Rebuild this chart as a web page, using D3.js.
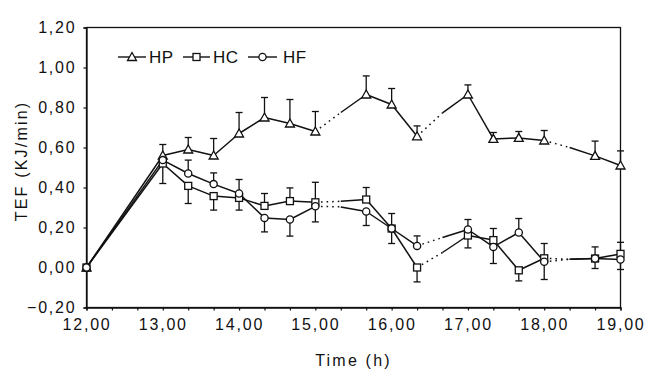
<!DOCTYPE html>
<html lang="en">
<head>
<meta charset="utf-8">
<script src="https://d3js.org/d3.v7.min.js"></script>
<style>
body { margin: 0; background: #fff; }
#chart { width: 648px; height: 370px; }
text { font-family: "Liberation Sans", Arial, sans-serif; fill: #111; }
</style>
</head>
<body>
<div id="chart"></div>
<script>
// measurement times (20 min steps, some slots have no measurement)
var times = ["12:00", "13:00", "13:20", "13:40", "14:00", "14:20", "14:40", "15:00", "15:20", "15:40",
             "16:00", "16:20", "16:40", "17:00", "17:20", "17:40", "18:00", "18:20", "18:40", "19:00"];
// false = no measurement at that slot, line drawn dotted into it
var measured = [true, true, true, true, true, true, true, true, false, true,
                true, true, false, true, true, true, true, false, true, true];

var hpValues = [0, 0.56, 0.59, 0.56, 0.67, 0.75, 0.72, 0.68, 0.775, 0.865,
                0.815, 0.656, 0.773, 0.865, 0.643, 0.648, 0.635, 0.60, 0.558, 0.51];
var hpErrUp = [0, 0.055, 0.06, 0.085, 0.105, 0.10, 0.12, 0.10, 0, 0.093,
               0.08, 0.052, 0, 0.048, 0.032, 0.032, 0.05, 0, 0.074, 0.073];
var hpErrDown = [0, 0, 0, 0, 0, 0, 0, 0, 0, 0, 0, 0, 0, 0, 0, 0, 0, 0, 0, 0];

var hcValues = [0, 0.52, 0.408, 0.357, 0.348, 0.308, 0.332, 0.326, 0.331, 0.34,
                0.195, 0.0, 0.075, 0.16, 0.137, -0.014, 0.046, 0.041, 0.045, 0.068];
var hcErrUp = [0, 0, 0, 0, 0, 0.062, 0.066, 0.10, 0, 0.06,
               0, 0, 0, 0, 0.058, 0, 0.074, 0, 0.058, 0.058];
var hcErrDown = [0, 0.10, 0.088, 0.07, 0.061, 0, 0, 0, 0, 0,
                 0.075, 0.072, 0, 0.062, 0, 0.053, 0, 0, 0, 0];

var hfValues = [0, 0.537, 0.47, 0.417, 0.37, 0.248, 0.24, 0.306, 0.303, 0.28,
                0.195, 0.108, 0.15, 0.19, 0.103, 0.175, 0.029, 0.041, 0.045, 0.04];
var hfErrUp = [0, 0, 0.067, 0.056, 0.07, 0, 0, 0, 0, 0,
               0.075, 0.05, 0, 0.05, 0, 0.07, 0, 0, 0, 0];
var hfErrDown = [0, 0, 0, 0, 0, 0.07, 0.083, 0.078, 0, 0.07,
                 0, 0, 0, 0, 0.083, 0, 0.089, 0, 0.05, 0.05];

var xTickLabels = ["12,00", "13,00", "14,00", "15,00", "16,00", "17,00", "18,00", "19,00"];
var yTickLabels = ["\u22120,20", "0,00", "0,20", "0,40", "0,60", "0,80", "1,00", "1,20"];

var seriesNames = ["HP", "HC", "HF"];

function toHours(s) {
    var p = s.split(":");
    return +p[0] + (+p[1]) / 60;
}

var width = 648, height = 370;
var margin = { top: 27.5, right: 27.5, bottom: 62.5, left: 86.5 };
var innerW = width - margin.left - margin.right,
    innerH = height - margin.top - margin.bottom;

var svg = d3.select("#chart").append("svg")
    .attr("width", width)
    .attr("height", height);

var g = svg.append("g")
    .attr("transform", "translate(" + margin.left + "," + margin.top + ")");

var x = d3.scaleLinear().domain([12, 19]).range([0, innerW]);
var y = d3.scaleLinear().domain([-0.2, 1.2]).range([innerH, 0]);

// frame
g.append("rect")
    .attr("x", 0).attr("y", 0)
    .attr("width", innerW).attr("height", innerH)
    .attr("fill", "none")
    .attr("stroke", "#111")
    .attr("stroke-width", 1.3);

// x axis: tick every 20 min, labels on the hour
var xTicks = d3.range(0, 22).map(function(i) { return 12 + i / 3; });
var xAxis = g.append("g")
    .attr("transform", "translate(0," + innerH + ")")
    .call(d3.axisBottom(x)
        .tickValues(xTicks)
        .tickSize(3)
        .tickPadding(8)
        .tickFormat(function(d, i) { return i % 3 === 0 ? xTickLabels[i / 3] : ""; }));

// y axis
var yTicks = d3.range(0, 8).map(function(i) { return -0.2 + i * 0.2; });
var yAxis = g.append("g")
    .call(d3.axisLeft(y)
        .tickValues(yTicks)
        .tickSize(3)
        .tickPadding(7)
        .tickFormat(function(d, i) { return yTickLabels[i]; }));

[xAxis, yAxis].forEach(function(ax) {
    ax.select(".domain").attr("stroke", "#111").attr("stroke-width", 1.3);
    ax.selectAll(".tick line").attr("stroke", "#111").attr("stroke-width", 1.2);
    ax.selectAll(".tick text")
        .style("font-size", "16px")
        .style("letter-spacing", "1.8px")
        .attr("fill", "#111");
});

// axis titles
svg.append("text")
    .attr("x", margin.left + innerW / 2)
    .attr("y", 366)
    .attr("text-anchor", "middle")
    .style("font-size", "16px")
    .style("letter-spacing", "2.2px")
    .text("Time (h)");

svg.append("text")
    .attr("transform", "translate(27,161) rotate(-90)")
    .attr("text-anchor", "middle")
    .style("font-size", "16px")
    .style("letter-spacing", "2.2px")
    .text("TEF (KJ/min)");

// build rows per series
var series = [
    { name: "HP", values: hpValues, up: hpErrUp, down: hpErrDown },
    { name: "HC", values: hcValues, up: hcErrUp, down: hcErrDown },
    { name: "HF", values: hfValues, up: hfErrUp, down: hfErrDown }
].map(function(s) {
    s.points = times.map(function(t, i) {
        return { t: toHours(t), v: s.values[i], up: s.up[i], down: s.down[i], measured: measured[i] };
    });
    return s;
});

function drawMarker(sel, name, cx, cy) {
    if (name === "HP") {
        sel.append("path")
            .attr("d", "M" + cx + "," + (cy - 4.5) + "L" + (cx + 4.5) + "," + (cy + 3.5) + "L" + (cx - 4.5) + "," + (cy + 3.5) + "Z")
            .attr("fill", "#fff").attr("stroke", "#111").attr("stroke-width", 1.3);
    } else if (name === "HC") {
        sel.append("rect")
            .attr("x", cx - 3.5).attr("y", cy - 3.5)
            .attr("width", 7).attr("height", 7)
            .attr("fill", "#fff").attr("stroke", "#111").attr("stroke-width", 1.3);
    } else {
        sel.append("circle")
            .attr("cx", cx).attr("cy", cy).attr("r", 3.6)
            .attr("fill", "#fff").attr("stroke", "#111").attr("stroke-width", 1.3);
    }
}

var capW = 3.5;

series.forEach(function(s) {
    var sg = g.append("g").attr("class", "series-" + s.name);

    // line segments, dotted into an empty slot
    var segs = d3.pairs(s.points);
    sg.selectAll("line.seg")
        .data(segs)
        .enter().append("line")
        .attr("class", "seg")
        .attr("x1", function(d) { return x(d[0].t); })
        .attr("y1", function(d) { return y(d[0].v); })
        .attr("x2", function(d) { return x(d[1].t); })
        .attr("y2", function(d) { return y(d[1].v); })
        .attr("stroke", "#111")
        .attr("stroke-width", 1.5)
        .attr("stroke-dasharray", function(d) { return d[1].measured ? null : "1.6,4"; });

    // error bars
    var bars = s.points.filter(function(p) { return p.measured && (p.up > 0 || p.down > 0); });
    bars.forEach(function(p) {
        var top = y(p.v + p.up), bot = y(p.v - p.down), cx = x(p.t);
        sg.append("line")
            .attr("x1", cx).attr("x2", cx)
            .attr("y1", top).attr("y2", bot)
            .attr("stroke", "#111").attr("stroke-width", 1.3);
        if (p.up > 0) {
            sg.append("line")
                .attr("x1", cx - capW).attr("x2", cx + capW)
                .attr("y1", top).attr("y2", top)
                .attr("stroke", "#111").attr("stroke-width", 1.3);
        }
        if (p.down > 0) {
            sg.append("line")
                .attr("x1", cx - capW).attr("x2", cx + capW)
                .attr("y1", bot).attr("y2", bot)
                .attr("stroke", "#111").attr("stroke-width", 1.3);
        }
    });
});

// markers on top
series.forEach(function(s) {
    var mg = g.append("g");
    s.points.filter(function(p) { return p.measured; }).forEach(function(p) {
        drawMarker(mg, s.name, x(p.t), y(p.v));
    });
});

// legend
var legendPos = [
    { x1: 118, x2: 146, text: 149 },
    { x1: 183, x2: 210, text: 213 },
    { x1: 248, x2: 277, text: 283 }
];
var lg = svg.append("g");
seriesNames.forEach(function(name, i) {
    var lp = legendPos[i], ly = 57;
    lg.append("line")
        .attr("x1", lp.x1).attr("x2", lp.x2)
        .attr("y1", ly).attr("y2", ly)
        .attr("stroke", "#111").attr("stroke-width", 1.4);
    drawMarker(lg, name, (lp.x1 + lp.x2) / 2, ly);
    lg.append("text")
        .attr("x", lp.text)
        .attr("y", ly + 6)
        .style("font-size", "17px")
        .style("letter-spacing", "0.5px")
        .text(name);
});
</script>
</body>
</html>
